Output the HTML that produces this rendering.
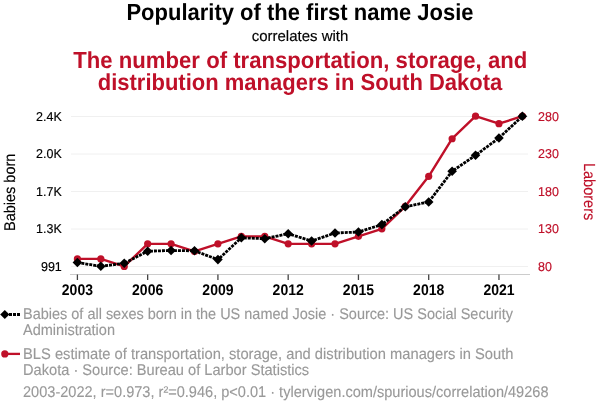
<!DOCTYPE html>
<html><head><meta charset="utf-8"><style>
html,body{margin:0;padding:0;background:#fff;}
svg{display:block;will-change:transform;}
text{font-family:"Liberation Sans",sans-serif;text-rendering:geometricPrecision;}
</style></head><body>
<svg width="600" height="414" viewBox="0 0 600 414">
<rect width="600" height="414" fill="#fff"/>
<g font-size="22" font-weight="bold" text-anchor="middle">
<text transform="translate(300,19.9) scale(1,1.06)" fill="#000">Popularity of the first name Josie</text>
<text transform="translate(300.25,68) scale(1,1.06)" fill="#bf1029" textLength="454" lengthAdjust="spacingAndGlyphs">The number of transportation, storage, and</text>
<text transform="translate(300,89.6) scale(1,1.06)" fill="#bf1029">distribution managers in South Dakota</text>
</g>
<text transform="translate(300,41.4) scale(1,1.0)" text-anchor="middle" font-size="15" fill="#000" stroke="#000" stroke-width="0.15">correlates with</text>
<g stroke="#f0f0f0" stroke-width="1"><line x1="71" x2="528" y1="116.5" y2="116.5"/><line x1="71" x2="528" y1="154" y2="154"/><line x1="71" x2="528" y1="191.5" y2="191.5"/><line x1="71" x2="528" y1="229" y2="229"/><line x1="71" x2="528" y1="266.5" y2="266.5"/></g>
<line x1="70" x2="530" y1="274.5" y2="274.5" stroke="#cccccc" stroke-width="1"/>
<g stroke="#444" stroke-width="1.3"><line x1="77.4" x2="77.4" y1="274.5" y2="280"/><line x1="147.66" x2="147.66" y1="274.5" y2="280"/><line x1="217.92" x2="217.92" y1="274.5" y2="280"/><line x1="288.18" x2="288.18" y1="274.5" y2="280"/><line x1="358.44" x2="358.44" y1="274.5" y2="280"/><line x1="428.7" x2="428.7" y1="274.5" y2="280"/><line x1="498.96" x2="498.96" y1="274.5" y2="280"/></g>
<g font-size="14" font-weight="bold" text-anchor="middle" fill="#000"><text transform="translate(77.4,294.7) scale(1,1.1)" >2003</text><text transform="translate(147.66,294.7) scale(1,1.1)" >2006</text><text transform="translate(217.92,294.7) scale(1,1.1)" >2009</text><text transform="translate(288.18,294.7) scale(1,1.1)" >2012</text><text transform="translate(358.44,294.7) scale(1,1.1)" >2015</text><text transform="translate(428.7,294.7) scale(1,1.1)" >2018</text><text transform="translate(498.96,294.7) scale(1,1.1)" >2021</text></g>
<g font-size="12.5" text-anchor="end" fill="#000" stroke="#000" stroke-width="0.15"><text transform="translate(61.8,120.9) scale(1,1.03)" >2.4K</text><text transform="translate(61.8,158.4) scale(1,1.03)" >2.0K</text><text transform="translate(61.8,195.9) scale(1,1.03)" >1.7K</text><text transform="translate(61.8,233.4) scale(1,1.03)" >1.3K</text><text transform="translate(61.8,270.9) scale(1,1.03)" >991</text></g>
<g font-size="12.5" text-anchor="start" fill="#bf1029" stroke="#bf1029" stroke-width="0.15"><text transform="translate(538,120.9) scale(1,1.03)" >280</text><text transform="translate(538,158.4) scale(1,1.03)" >230</text><text transform="translate(538,195.9) scale(1,1.03)" >180</text><text transform="translate(538,233.4) scale(1,1.03)" >130</text><text transform="translate(538,270.9) scale(1,1.03)" >80</text></g>
<text transform="translate(15.2,192.3) rotate(-90)" x="-38.6" font-size="15.5" fill="#000" stroke="#000" stroke-width="0.15" textLength="77.2" lengthAdjust="spacingAndGlyphs">Babies born</text>
<text transform="translate(583.9,191.5) rotate(90)" x="-28.6" font-size="16" fill="#bf1029" stroke="#bf1029" stroke-width="0.15" textLength="57.4" lengthAdjust="spacingAndGlyphs">Laborers</text>
<polyline points="77.4,258.89 100.82,258.89 124.24,266.4 147.66,243.87 171.08,243.87 194.5,251.38 217.92,243.87 241.34,236.36 264.76,236.36 288.18,243.87 311.6,243.87 335.02,243.87 358.44,236.36 381.86,228.85 405.28,206.32 428.7,176.28 452.12,138.73 475.54,116.2 498.96,123.71 522.38,116.2" fill="none" stroke="#bf1029" stroke-width="2.4" stroke-linejoin="round"/>
<g fill="#bf1029"><circle cx="77.4" cy="258.89" r="3.6"/><circle cx="100.82" cy="258.89" r="3.6"/><circle cx="124.24" cy="266.4" r="3.6"/><circle cx="147.66" cy="243.87" r="3.6"/><circle cx="171.08" cy="243.87" r="3.6"/><circle cx="194.5" cy="251.38" r="3.6"/><circle cx="217.92" cy="243.87" r="3.6"/><circle cx="241.34" cy="236.36" r="3.6"/><circle cx="264.76" cy="236.36" r="3.6"/><circle cx="288.18" cy="243.87" r="3.6"/><circle cx="311.6" cy="243.87" r="3.6"/><circle cx="335.02" cy="243.87" r="3.6"/><circle cx="358.44" cy="236.36" r="3.6"/><circle cx="381.86" cy="228.85" r="3.6"/><circle cx="405.28" cy="206.32" r="3.6"/><circle cx="428.7" cy="176.28" r="3.6"/><circle cx="452.12" cy="138.73" r="3.6"/><circle cx="475.54" cy="116.2" r="3.6"/><circle cx="498.96" cy="123.71" r="3.6"/><circle cx="522.38" cy="116.2" r="3.6"/></g>
<polyline points="77.4,262.5 100.82,266.3 124.24,263.3 147.66,251.2 171.08,250.5 194.5,250.8 217.92,259.6 241.34,237.8 264.76,238.7 288.18,233.7 311.6,241 335.02,233 358.44,232 381.86,224.6 405.28,206.7 428.7,202 452.12,171.2 475.54,155.25 498.96,138 522.38,116.2" fill="none" stroke="#000" stroke-width="2.8" stroke-dasharray="3 1"/>
<g fill="#000"><path d="M77.4 257.7L82.2 262.5L77.4 267.3L72.6 262.5Z"/><path d="M100.82 261.5L105.62 266.3L100.82 271.1L96.02 266.3Z"/><path d="M124.24 258.5L129.04 263.3L124.24 268.1L119.44 263.3Z"/><path d="M147.66 246.4L152.46 251.2L147.66 256L142.86 251.2Z"/><path d="M171.08 245.7L175.88 250.5L171.08 255.3L166.28 250.5Z"/><path d="M194.5 246L199.3 250.8L194.5 255.6L189.7 250.8Z"/><path d="M217.92 254.8L222.72 259.6L217.92 264.4L213.12 259.6Z"/><path d="M241.34 233L246.14 237.8L241.34 242.6L236.54 237.8Z"/><path d="M264.76 233.9L269.56 238.7L264.76 243.5L259.96 238.7Z"/><path d="M288.18 228.9L292.98 233.7L288.18 238.5L283.38 233.7Z"/><path d="M311.6 236.2L316.4 241L311.6 245.8L306.8 241Z"/><path d="M335.02 228.2L339.82 233L335.02 237.8L330.22 233Z"/><path d="M358.44 227.2L363.24 232L358.44 236.8L353.64 232Z"/><path d="M381.86 219.8L386.66 224.6L381.86 229.4L377.06 224.6Z"/><path d="M405.28 201.9L410.08 206.7L405.28 211.5L400.48 206.7Z"/><path d="M428.7 197.2L433.5 202L428.7 206.8L423.9 202Z"/><path d="M452.12 166.4L456.92 171.2L452.12 176L447.32 171.2Z"/><path d="M475.54 150.45L480.34 155.25L475.54 160.05L470.74 155.25Z"/><path d="M498.96 133.2L503.76 138L498.96 142.8L494.16 138Z"/><path d="M522.38 111.4L527.18 116.2L522.38 121L517.58 116.2Z"/></g>
<g>
<line x1="5" x2="20" y1="314.5" y2="314.5" stroke="#000" stroke-width="3" stroke-dasharray="3 1"/>
<path d="M4.8 309.9L9.4 314.5L4.8 319.1L0.2 314.5Z" fill="#000"/>
<line x1="5" x2="20" y1="353.9" y2="353.9" stroke="#bf1029" stroke-width="2.3"/>
<circle cx="4.8" cy="353.9" r="3.6" fill="#bf1029"/>
</g>
<g font-size="14.5" fill="#999999" stroke="#999999" stroke-width="0.12">
<text transform="translate(23,318.6) scale(1,1.07)" textLength="490" lengthAdjust="spacingAndGlyphs">Babies of all sexes born in the US named Josie · Source: US Social Security</text>
<text transform="translate(23,334.6) scale(1,1.07)" textLength="92" lengthAdjust="spacingAndGlyphs">Administration</text>
<text transform="translate(23,358.7) scale(1,1.07)" textLength="490.5" lengthAdjust="spacingAndGlyphs">BLS estimate of transportation, storage, and distribution managers in South</text>
<text transform="translate(23,374.6) scale(1,1.07)" textLength="286.2" lengthAdjust="spacingAndGlyphs">Dakota · Source: Bureau of Larbor Statistics</text>
<text transform="translate(23,397.4) scale(1,1.07)" textLength="525.5" lengthAdjust="spacingAndGlyphs">2003-2022, r=0.973, r²=0.946, p&lt;0.01 · tylervigen.com/spurious/correlation/49268</text>
</g>
</svg>
</body></html>
